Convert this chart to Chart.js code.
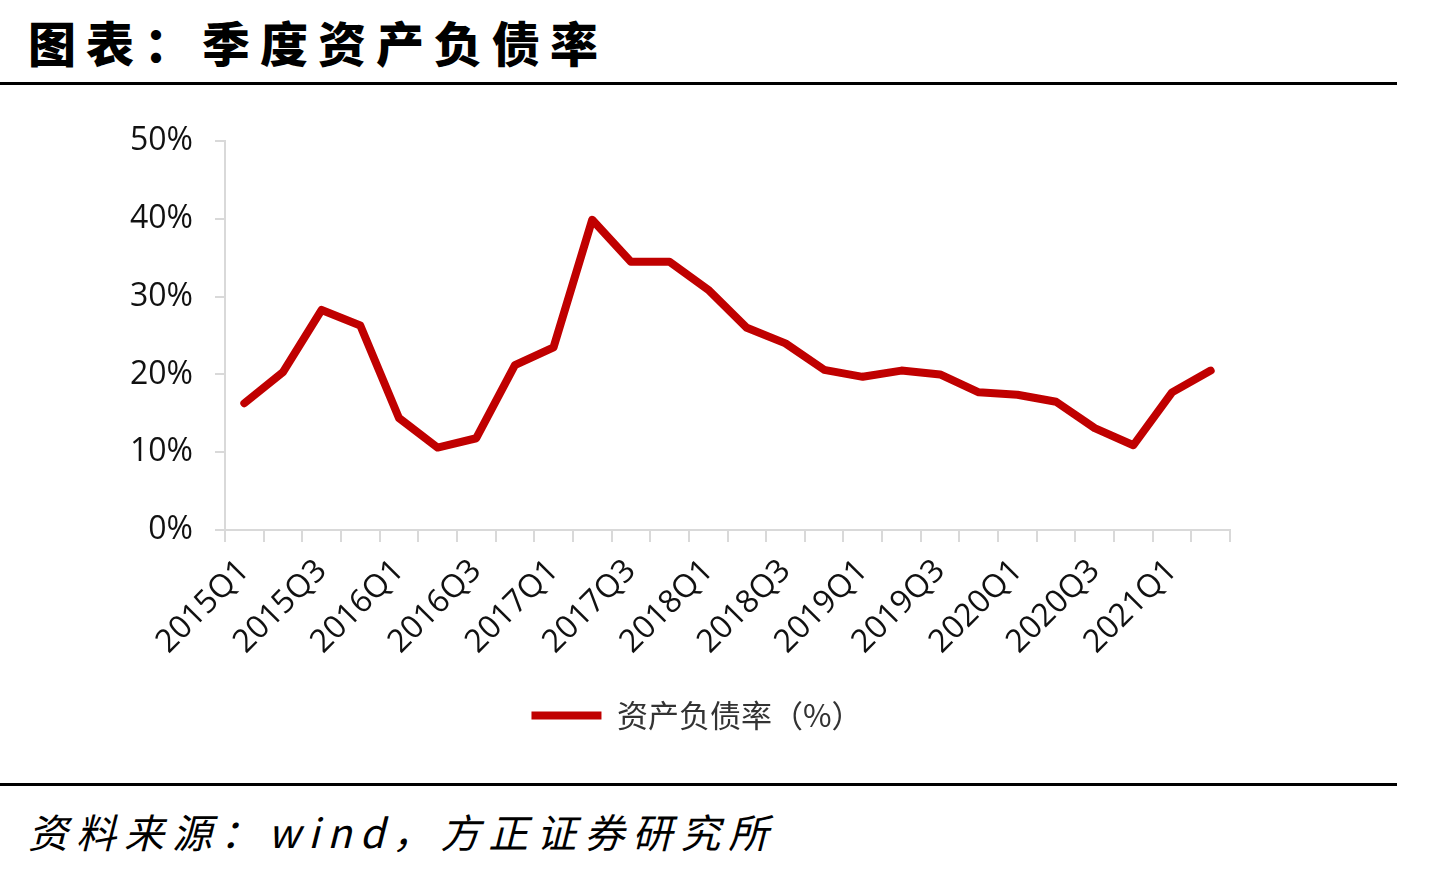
<!DOCTYPE html>
<html>
<head>
<meta charset="utf-8">
<script src="https://cdn.jsdelivr.net/npm/chart.js@4/dist/chart.umd.min.js"></script>
<style>
  body { margin: 0; background: #fff; width: 1434px; height: 870px; position: relative; overflow: hidden; }
  .title { position: absolute; left: 28px; top: 6px; font-family: "Noto Sans CJK SC"; font-weight: 900; font-size: 48px; letter-spacing: 10px; color: #000; }
  .rule { position: absolute; left: 0; width: 1397px; height: 3px; background: #000; }
  .source { position: absolute; left: 28px; top: 802px; font-family: "Noto Sans CJK SC"; font-style: italic; font-size: 40px; letter-spacing: 8px; color: #000; }
  #wrap { position: absolute; left: 0; top: 100px; width: 1400px; height: 660px; }
</style>
</head>
<body>
<div class="title">图表：季度资产负债率</div>
<div class="rule" style="top:82px"></div>
<div id="wrap"><canvas id="debt-canvas"></canvas></div>
<div class="rule" style="top:783px"></div>
<div class="source">资料来源：wind，方正证券研究所</div>
<script>
// quarters 2015Q1 - 2021Q2
const quarters = [
  "2015Q1", "2015Q2", "2015Q3", "2015Q4",
  "2016Q1", "2016Q2", "2016Q3", "2016Q4",
  "2017Q1", "2017Q2", "2017Q3", "2017Q4",
  "2018Q1", "2018Q2", "2018Q3", "2018Q4",
  "2019Q1", "2019Q2", "2019Q3", "2019Q4",
  "2020Q1", "2020Q2", "2020Q3", "2020Q4",
  "2021Q1", "2021Q2"
]
// asset-liability ratio, %
const debtRatio = [
  16.3, 20.3, 28.3, 26.3,
  14.4, 10.6, 11.8, 21.2,
  23.5, 39.9, 34.5, 34.5,
  30.9, 26.0, 24.0, 20.6,
  19.7, 20.5, 20.0, 17.7,
  17.4, 16.5, 13.1, 10.9,
  17.7, 20.5
]
const yTicks = [0, 10, 20, 30, 40, 50]

const red = "#C00000"
const gridGrey = "#d9d9d9"
const tickFont = { family: "'Open Sans', 'Noto Sans'", size: 32 }

// legend sits a bit right of the canvas centre in the original
const legendShift = {
  id: "legendShift",
  afterLayout(chart) {
    chart.legend.left += 82
    chart.legend.right += 82
  },
}

new Chart(document.getElementById("debt-canvas"), {
  type: "line",
  data: {
    labels: quarters,
    datasets: [
      {
        label: "资产负债率（%）",
        data: debtRatio,
        borderColor: red,
        backgroundColor: red,
        borderWidth: 8,
        pointRadius: 0,
        tension: 0,
        borderJoinStyle: "round",
        borderCapStyle: "round",
      },
    ],
  },
  plugins: [legendShift],
  options: {
    responsive: true,
    maintainAspectRatio: false,
    animation: false,
    layout: { padding: { left: 0, right: 170, top: 39, bottom: 19 } },
    plugins: {
      tooltip: { enabled: false },
      legend: {
        position: "bottom",
        labels: {
          boxWidth: 70,
          boxHeight: 8,
          padding: 10,
          color: "#333",
          font: { family: "'Noto Sans CJK SC'", size: 31 },
          generateLabels: (chart) =>
            Chart.defaults.plugins.legend.labels
              .generateLabels(chart)
              .map((l) => ({ ...l, lineWidth: 0 })),
        },
      },
    },
    scales: {
      x: {
        offset: true,
        afterFit: (s) => { s.height = 160 },
        grid: {
          offset: true,
          drawOnChartArea: false,
          color: gridGrey,
          lineWidth: 2,
          tickLength: 12,
        },
        border: { color: gridGrey, width: 2 },
        ticks: {
          autoSkip: false,
          minRotation: 45,
          maxRotation: 45,
          padding: 10,
          color: "#111",
          font: tickFont,
          callback: (v, i) => (i % 2 === 0 ? quarters[i] : ""),
        },
      },
      y: {
        min: yTicks[0],
        max: yTicks[yTicks.length - 1],
        afterFit: (s) => { s.width = 225 },
        afterBuildTicks: (s) => { s.ticks = yTicks.map((v) => ({ value: v })) },
        grid: {
          drawOnChartArea: false,
          color: gridGrey,
          lineWidth: 2,
          tickLength: 10,
        },
        border: { color: gridGrey, width: 2 },
        ticks: {
          padding: 22,
          color: "#111",
          font: tickFont,
          callback: (v) => v + "%",
        },
      },
    },
  },
})
</script>
</body>
</html>
